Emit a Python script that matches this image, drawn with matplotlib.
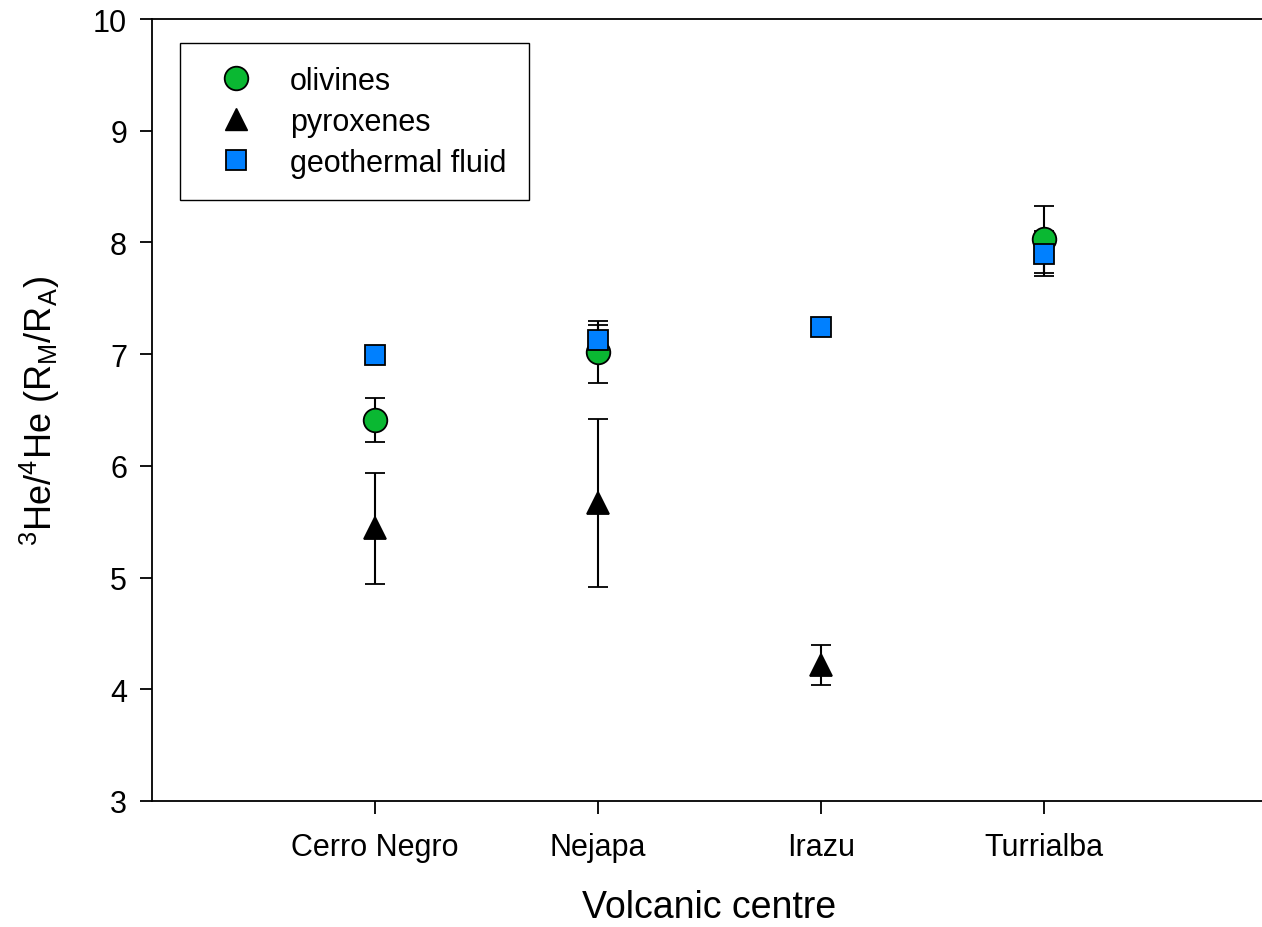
import matplotlib.pyplot as plt
import numpy as np
from matplotlib.lines import Line2D

plt.rcParams['font.family'] = ['Liberation Sans', 'DejaVu Sans']
plt.rcParams['mathtext.default'] = 'regular'

centres = ['Cerro Negro', 'Nejapa', 'Irazu', 'Turrialba']
olivine = [6.41, 7.02, np.nan, 8.03]
olivine_err = [0.20, 0.28, np.nan, 0.30]
pyroxene = [5.44, 5.67, 4.22, np.nan]
pyroxene_err = [0.50, 0.75, 0.18, np.nan]
fluid = [6.99, 7.13, 7.24, 7.90]
fluid_err = [np.nan, 0.13, np.nan, 0.20]

green = '#0ab832'
blue = '#0080ff'

fig = plt.figure(figsize=(12.62, 9.28), dpi=100)
ax = fig.add_axes([152/1262, 126/928, 1115/1262, 782/928])

x = np.arange(1, len(centres) + 1)
kw = dict(ecolor='black', elinewidth=1.5, capsize=7, capthick=1.5, linestyle='none',
          markeredgecolor='black', markeredgewidth=1.3)
ax.errorbar(x, olivine, yerr=olivine_err, fmt='o', markersize=17, markerfacecolor=green, **kw)
ax.errorbar(x, pyroxene, yerr=pyroxene_err, fmt='^', markersize=16.5, markerfacecolor='black', **kw)
ax.errorbar(x, fluid, yerr=fluid_err, fmt='s', markersize=14.5, markerfacecolor=blue, **kw)

ax.set_xlim(0, 5)
ax.set_ylim(3, 10)
ax.set_xticks(x)
ax.set_xticklabels(centres)
ax.set_yticks(range(3, 11))
ax.tick_params(labelsize=22, length=9, width=1.3, direction='out', top=False, right=False)
ax.tick_params(axis='x', pad=13)
ax.tick_params(axis='y', pad=9)
for s in ax.spines.values():
    s.set_linewidth(1.3)

ax.set_xlabel('Volcanic centre', fontsize=27, labelpad=20)
ax.set_ylabel(r'$^{3}$He/$^{4}$He (R$_{M}$/R$_{A}$)', fontsize=26, labelpad=22)

handles = [
    Line2D([], [], marker='o', linestyle='none', markersize=17, markerfacecolor=green, markeredgecolor='black', markeredgewidth=1.3),
    Line2D([], [], marker='^', linestyle='none', markersize=16.5, markerfacecolor='black', markeredgecolor='black'),
    Line2D([], [], marker='s', linestyle='none', markersize=14.5, markerfacecolor=blue, markeredgecolor='black', markeredgewidth=1.3),
]
leg = ax.legend(handles, ['olivines', 'pyroxenes', 'geothermal fluid'], loc='upper left',
                bbox_to_anchor=(0.025, 0.969), borderaxespad=0, fontsize=22,
                fancybox=False, frameon=True, edgecolor='black', framealpha=1,
                handlelength=2.2, handletextpad=0.65, labelspacing=0.35, borderpad=0.75)
leg.get_frame().set_linewidth(1.0)

fig.savefig('out.png', dpi=100)
